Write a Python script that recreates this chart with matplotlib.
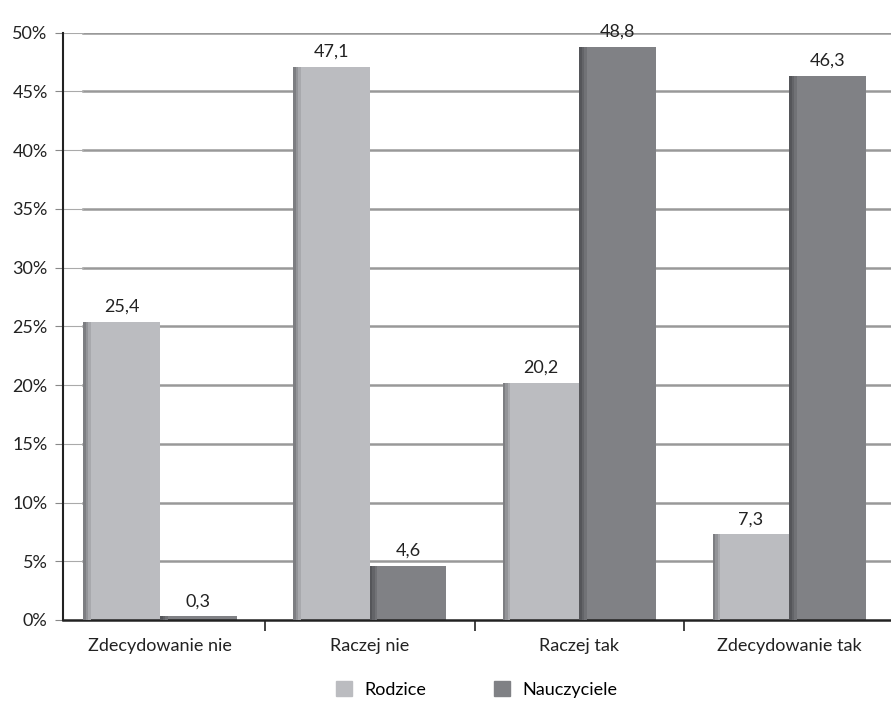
import numpy as np
import matplotlib
matplotlib.use('Agg')
import matplotlib.pyplot as plt
from matplotlib.patches import Patch

categories = ['Zdecydowanie nie', 'Raczej nie', 'Raczej tak', 'Zdecydowanie tak']
rodzice = [25.4, 47.1, 20.2, 7.3]
nauczyciele = [0.3, 4.6, 48.8, 46.3]

plt.rcParams['font.family'] = ['Lato', 'DejaVu Sans']

fig = plt.figure(figsize=(8.91, 7.05), dpi=100)
ax = fig.add_axes([0.0707, 0.1206, 0.9293, 0.833])

x = np.arange(len(categories))
w = 0.365
c1 = '#bbbcc0'
c2 = '#808185'
fs = 13

ax.set_xlim(-0.4626, 3.486)
ax.set_ylim(0, 50)
ax.set_yticks(range(0, 51, 5))
ax.set_yticklabels(['%d%%' % v for v in range(0, 51, 5)], fontsize=fs, color='#222222')

# gridlines: thin near the axis, thick behind the bars
xl = ax.get_xlim()
split = (-w - xl[0]) / (xl[1] - xl[0])
for v in range(5, 51, 5):
    ax.axhline(v, xmin=split, color='#999999', lw=1.8, zorder=0)
    ax.axhline(v, xmax=split, color='#aaaaaa', lw=0.8, zorder=0)

ax.bar(x - w / 2, rodzice, w, color=c1, zorder=2)
ax.bar(x + w / 2, nauczyciele, w, color=c2, zorder=2)

# darker left edge shading (simple gradient)
sw = 0.012
shades1 = ['#7d7e82', '#939498', '#a8a9ad']
shades2 = ['#55565a', '#636468', '#717276']
for k in range(3):
    ax.bar(x - w + sw * (k + 0.5), rodzice, sw, color=shades1[k], zorder=3, lw=0)
    ax.bar(x + sw * (k + 0.5), nauczyciele, sw, color=shades2[k], zorder=3, lw=0)

for i in range(len(x)):
    ax.text(x[i] - w / 2, rodzice[i] + 0.6, ('%.1f' % rodzice[i]).replace('.', ','),
            ha='center', va='bottom', fontsize=fs, color='#222222')
    ax.text(x[i] + w / 2, nauczyciele[i] + 0.6, ('%.1f' % nauczyciele[i]).replace('.', ','),
            ha='center', va='bottom', fontsize=fs, color='#222222')

ax.set_xticks(x)
ax.set_xticklabels(categories, fontsize=fs, color='#222222')
ax.tick_params(axis='x', length=0, pad=13)
ax.set_xticks(np.arange(0.5, 3.5, 1), minor=True)
ax.tick_params(axis='x', which='minor', length=8, width=1.2, direction='out', color='#222222')
ax.tick_params(axis='y', length=6, width=0.8, direction='out', color='#888888', pad=5)

for s in ['top', 'right']:
    ax.spines[s].set_visible(False)
ax.spines['left'].set_linewidth(1.5)
ax.spines['left'].set_color('#222222')
ax.spines['bottom'].set_linewidth(1.8)
ax.spines['bottom'].set_color('#222222')

handles = [Patch(color=c1, label='Rodzice'), Patch(color=c2, label='Nauczyciele')]
fig.legend(handles=handles, loc='center', ncol=2, frameon=False,
           bbox_to_anchor=(0.535, 0.022), fontsize=fs, handlelength=0.9,
           handleheight=0.9, handletextpad=0.7, columnspacing=3.7)

fig.savefig('out.png', dpi=100)
